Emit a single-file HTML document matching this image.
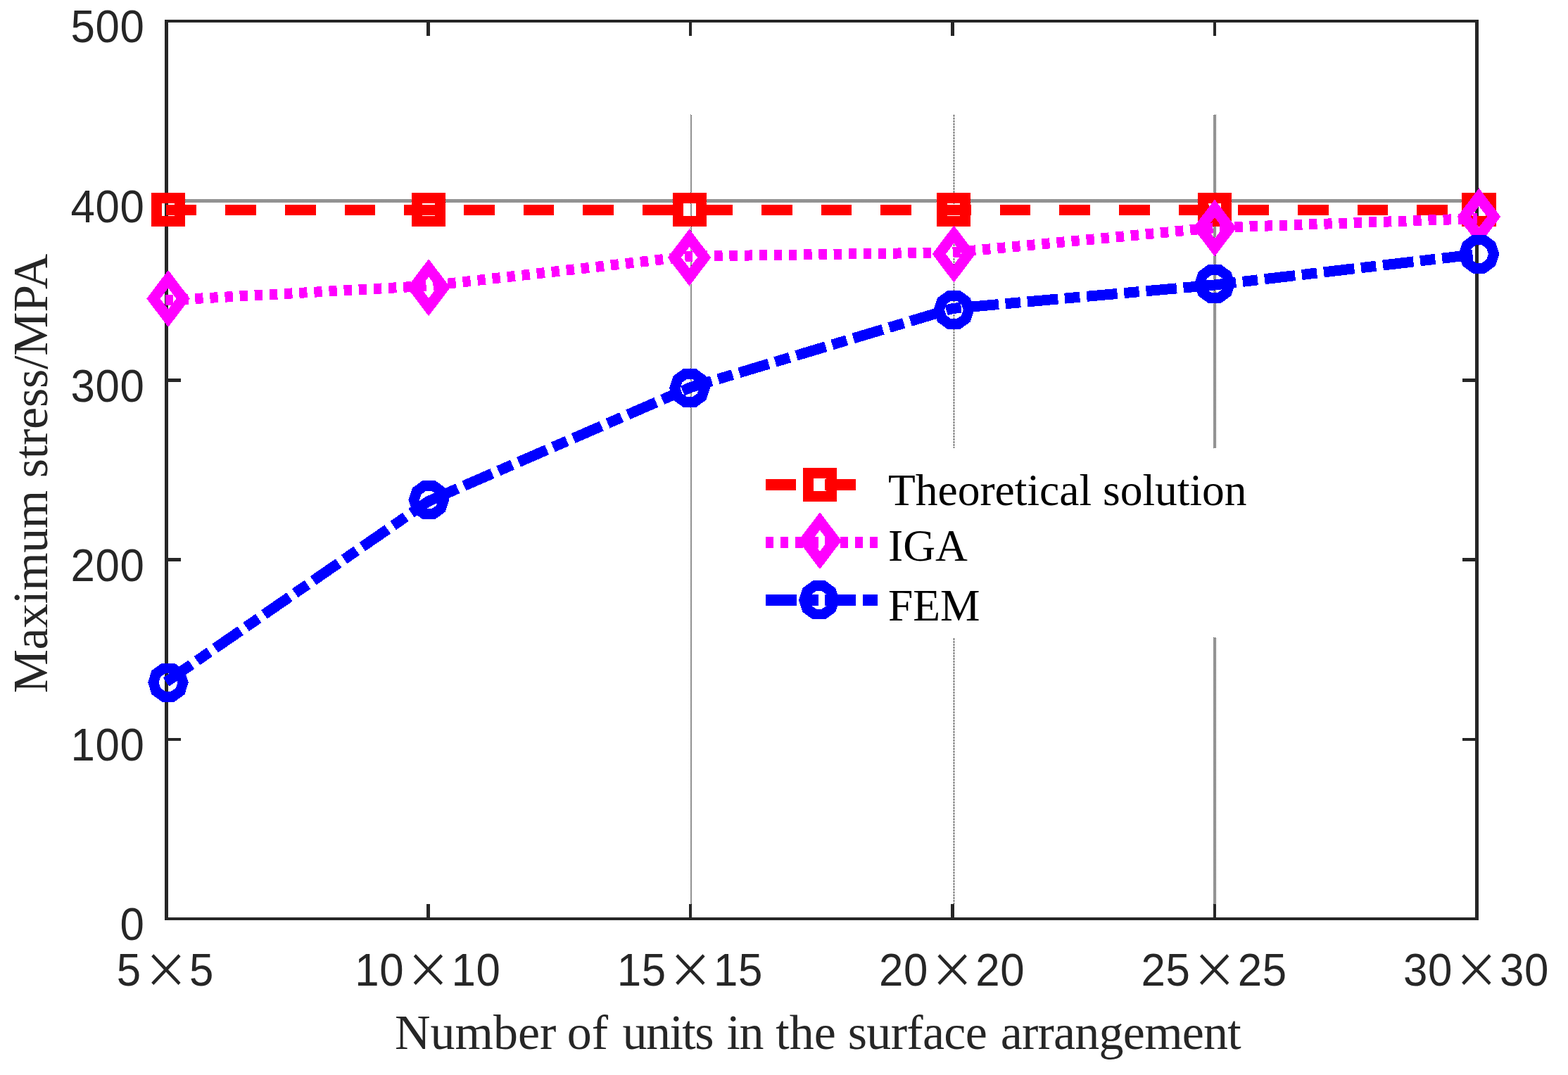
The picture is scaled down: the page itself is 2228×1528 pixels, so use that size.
<!DOCTYPE html>
<html lang="en"><head><meta charset="utf-8"><title>Maximum stress versus number of units</title>
<style>html,body{margin:0;padding:0;background:#fff;}body{width:2228px;height:1528px;overflow:hidden;}svg{display:block;}.tk{font-family:"Liberation Sans",sans-serif;font-size:65.4px;letter-spacing:0.64px;fill:#262626;}.tk .x{font-family:"Noto Sans CJK SC","Liberation Sans",sans-serif;font-size:68px;letter-spacing:0;}.lb{font-family:"Liberation Serif",serif;font-size:70px;fill:#262626;}.lg{font-family:"Liberation Serif",serif;font-size:63.5px;fill:#000;}</style></head><body>
<svg xmlns="http://www.w3.org/2000/svg" width="2228" height="1528" viewBox="0 0 2228 1528">
<defs><pattern id="chk" patternUnits="userSpaceOnUse" x="0" y="0" width="2" height="2"><rect x="0" y="0" width="1" height="1" fill="#262626"/><rect x="1" y="1" width="1" height="1" fill="#262626"/></pattern></defs>
<rect x="0" y="0" width="2228" height="1528" fill="#ffffff"/>
<g shape-rendering="crispEdges">
<rect x="239" y="283" width="1857" height="5" fill="url(#chk)"/>
<rect x="981" y="163" width="2" height="1141" fill="url(#chk)"/>
<line x1="1355.5" y1="163" x2="1355.5" y2="1304" stroke="#262626" stroke-width="1" stroke-dasharray="3 1"/>
<rect x="1724" y="163" width="4" height="1141" fill="url(#chk)"/>
</g>
<g fill="#262626" shape-rendering="crispEdges">
<rect x="234" y="28" width="5" height="1280"/>
<rect x="2096" y="28" width="5" height="1280"/>
<rect x="234" y="28" width="1867" height="4"/>
<rect x="234" y="1304" width="1867" height="4"/>
<rect x="606" y="32" width="5" height="19"/>
<rect x="606" y="1285" width="5" height="19"/>
<rect x="979" y="32" width="4" height="19"/>
<rect x="979" y="1285" width="4" height="19"/>
<rect x="1351" y="32" width="5" height="19"/>
<rect x="1351" y="1285" width="5" height="19"/>
<rect x="1724" y="32" width="4" height="19"/>
<rect x="1724" y="1285" width="4" height="19"/>
<rect x="239" y="283" width="18" height="5"/>
<rect x="2078" y="283" width="18" height="5"/>
<rect x="239" y="538" width="18" height="5"/>
<rect x="2078" y="538" width="18" height="5"/>
<rect x="239" y="793" width="18" height="5"/>
<rect x="2078" y="793" width="18" height="5"/>
<rect x="239" y="1049" width="18" height="4"/>
<rect x="2078" y="1049" width="18" height="4"/>
</g>
<g fill="none" stroke-linejoin="miter" stroke-miterlimit="10" shape-rendering="crispEdges">
<g stroke="#ff0000" stroke-width="15"><polyline points="235.70,298.50 2098.00,298.50" stroke="#ff0000" stroke-width="15" stroke-dasharray="43.6 41.05" stroke-linejoin="bevel"/><rect x="222.50" y="281.50" width="33" height="33"/><rect x="592.50" y="281.50" width="33" height="33"/><rect x="963.50" y="281.50" width="33" height="33"/><rect x="1338.50" y="281.50" width="33" height="33"/><rect x="1709.50" y="281.50" width="33" height="33"/><rect x="2084.50" y="281.50" width="34" height="33"/></g>
<g stroke="#ff00ff" stroke-width="15.4"><polyline points="235.00,426.80 608.70,406.30 981.00,364.20 1353.50,358.90 1726.00,323.65 2099.00,310.60" stroke="#ff00ff" stroke-width="15" stroke-dasharray="11.3 9.868" stroke-linejoin="bevel"/><path d="M239.05 396.65L260.15 424.45L239.05 452.25L217.95 424.45Z"/><path d="M609.10 380.90L630.20 408.70L609.10 436.50L588.00 408.70Z"/><path d="M979.50 338.20L1000.60 366.00L979.50 393.80L958.40 366.00Z"/><path d="M1355.40 333.20L1376.50 361.00L1355.40 388.80L1334.30 361.00Z"/><path d="M1726.00 296.20L1747.10 324.00L1726.00 351.80L1704.90 324.00Z"/><path d="M2101.50 280.20L2122.60 308.00L2101.50 335.80L2080.40 308.00Z"/></g>
<g stroke="#0000ff" stroke-width="14.8"><polyline points="236.00,969.40 608.70,712.50 981.00,550.70 1353.50,438.45 1726.00,405.00 2098.50,361.40" stroke="#0000ff" stroke-width="15" stroke-dasharray="43.7 9.6 21.5 9.85" stroke-linejoin="bevel"/><polygon points="260.13,970.00 256.09,982.42 245.53,990.10 232.47,990.10 221.91,982.42 217.87,970.00 221.91,957.58 232.47,949.90 245.53,949.90 256.09,957.58"/><polygon points="630.53,710.50 626.49,722.92 615.93,730.60 602.87,730.60 592.31,722.92 588.27,710.50 592.31,698.08 602.87,690.40 615.93,690.40 626.49,698.08"/><polygon points="1001.13,551.50 997.09,563.92 986.53,571.60 973.47,571.60 962.91,563.92 958.87,551.50 962.91,539.08 973.47,531.40 986.53,531.40 997.09,539.08"/><polygon points="1376.53,440.45 1372.49,452.87 1361.93,460.55 1348.87,460.55 1338.31,452.87 1334.27,440.45 1338.31,428.03 1348.87,420.35 1361.93,420.35 1372.49,428.03"/><polygon points="1747.03,403.45 1742.99,415.87 1732.43,423.55 1719.37,423.55 1708.81,415.87 1704.77,403.45 1708.81,391.03 1719.37,383.35 1732.43,383.35 1742.99,391.03"/><polygon points="2122.63,361.00 2118.59,373.42 2108.03,381.10 2094.97,381.10 2084.41,373.42 2080.37,361.00 2084.41,348.58 2094.97,340.90 2108.03,340.90 2118.59,348.58"/></g>
</g>
<rect x="1070" y="637" width="720" height="269" fill="#ffffff"/>
<g fill="none" stroke-width="16" shape-rendering="crispEdges">
<line x1="1087.8" y1="689" x2="1247.2" y2="689" stroke="#ff0000" stroke-dasharray="43.6 41.05"/>
<line x1="1087.8" y1="771" x2="1247.2" y2="771" stroke="#ff00ff" stroke-dasharray="11.3 9.868"/>
<line x1="1087.8" y1="853" x2="1247.2" y2="853" stroke="#0000ff" stroke-dasharray="43.7 9.6 21.5 9.85"/>
</g>
<g fill="none" stroke-linejoin="miter" stroke-miterlimit="10" shape-rendering="crispEdges">
<g stroke="#ff0000" stroke-width="15"><rect x="1148.50" y="672.50" width="33" height="33"/></g>
<g stroke="#ff00ff" stroke-width="15.4"><path d="M1165.00 740.80L1186.10 768.60L1165.00 796.40L1143.90 768.60Z"/></g>
<g stroke="#0000ff" stroke-width="14.8"><polygon points="1184.93,852.90 1180.89,865.32 1170.33,873.00 1157.27,873.00 1146.71,865.32 1142.67,852.90 1146.71,840.48 1157.27,832.80 1170.33,832.80 1180.89,840.48"/></g>
</g>
<g class="lg">
<text x="1262" y="718">Theoretical solution</text>
<text x="1262" y="797">IGA</text>
<text x="1262" y="882">FEM</text>
</g>
<g class="tk">
<text transform="translate(205.4 1336.3) scale(0.946 1)" text-anchor="end">0</text>
<text transform="translate(205.4 1081.1) scale(0.946 1)" text-anchor="end">100</text>
<text transform="translate(205.4 825.9) scale(0.946 1)" text-anchor="end">200</text>
<text transform="translate(205.4 570.7) scale(0.946 1)" text-anchor="end">300</text>
<text transform="translate(205.4 315.5) scale(0.946 1)" text-anchor="end">400</text>
<text transform="translate(205.4 60.3) scale(0.946 1)" text-anchor="end">500</text>
<text transform="translate(0 1401.2) scale(0.946 1)"><tspan x="175.16">5</tspan><tspan class="x" x="215.47" dy="2.7">×</tspan><tspan x="284.46" dy="-2.7">5</tspan></text>
<text transform="translate(0 1401.2) scale(0.946 1)"><tspan x="533.09">10</tspan><tspan class="x" x="609.13" dy="2.7">×</tspan><tspan x="678.12" dy="-2.7">10</tspan></text>
<text transform="translate(0 1401.2) scale(0.946 1)"><tspan x="926.74">15</tspan><tspan class="x" x="1002.79" dy="2.7">×</tspan><tspan x="1071.78" dy="-2.7">15</tspan></text>
<text transform="translate(0 1401.2) scale(0.946 1)"><tspan x="1320.40">20</tspan><tspan class="x" x="1396.44" dy="2.7">×</tspan><tspan x="1465.43" dy="-2.7">20</tspan></text>
<text transform="translate(0 1401.2) scale(0.946 1)"><tspan x="1714.06">25</tspan><tspan class="x" x="1790.10" dy="2.7">×</tspan><tspan x="1859.09" dy="-2.7">25</tspan></text>
<text transform="translate(0 1401.2) scale(0.946 1)"><tspan x="2107.72">30</tspan><tspan class="x" x="2183.76" dy="2.7">×</tspan><tspan x="2252.75" dy="-2.7">30</tspan></text>
</g>
<g class="lb">
<text y="1491.2"><tspan x="561">Number</tspan> <tspan x="805.7">of</tspan> <tspan x="884.5" letter-spacing="-1.55">units</tspan> <tspan x="1032.6" letter-spacing="-1.6">in</tspan> <tspan x="1102.2">the</tspan> <tspan x="1204.7" letter-spacing="-0.65">surface</tspan> <tspan x="1421.7" letter-spacing="-0.77">arrangement</tspan></text>
<text transform="rotate(-90)" y="67.1"><tspan x="-985.2" letter-spacing="-0.55">Maximum</tspan> <tspan x="-679.3" letter-spacing="-0.2">stress/MPA</tspan></text>
</g>
</svg></body></html>
